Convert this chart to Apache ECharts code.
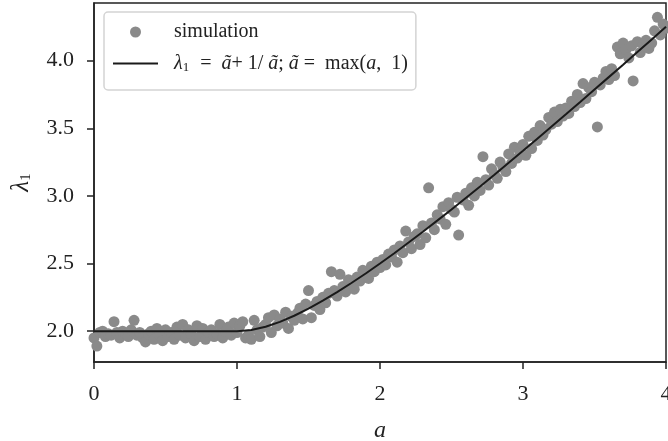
<!DOCTYPE html>
<html>
<head>
<meta charset="utf-8">
<script src="https://cdn.jsdelivr.net/npm/echarts@6/dist/echarts.min.js"></script>
<style>
  html, body { margin: 0; padding: 0; background: #fff; }
  #main { width: 668px; height: 441px; }
</style>
</head>
<body>
<div id="main"></div>
<script>
// simulated points [a, lambda1]
const simPoints = [
  [0.00, 1.95], [0.02, 1.89], [0.04, 1.99], [0.06, 2.00], [0.08, 1.96], [0.10, 1.98],
  [0.12, 1.97], [0.14, 2.07], [0.16, 1.99], [0.18, 1.95], [0.20, 2.00], [0.22, 1.98],
  [0.24, 1.96], [0.26, 2.01], [0.28, 2.08], [0.30, 1.97], [0.32, 1.99], [0.34, 1.95],
  [0.36, 1.92], [0.38, 1.98], [0.40, 2.00], [0.42, 1.94], [0.44, 2.02], [0.46, 1.97],
  [0.48, 1.93], [0.50, 2.01], [0.52, 1.96], [0.54, 1.99], [0.56, 1.94], [0.58, 2.03],
  [0.60, 1.97], [0.62, 2.05], [0.64, 1.95], [0.66, 2.01], [0.68, 1.98], [0.70, 1.93],
  [0.72, 2.04], [0.74, 1.96], [0.76, 2.02], [0.78, 1.94], [0.80, 1.99], [0.82, 2.01],
  [0.84, 1.96], [0.86, 1.98], [0.88, 2.05], [0.90, 1.95], [0.92, 2.00], [0.94, 2.03],
  [0.96, 1.97], [0.98, 2.06], [1.00, 1.99], [1.02, 2.04], [1.04, 2.07], [1.06, 1.95],
  [1.08, 1.97], [1.10, 1.94], [1.12, 2.08], [1.14, 2.01], [1.16, 1.96], [1.18, 2.03],
  [1.20, 2.05], [1.22, 2.10], [1.24, 1.99], [1.26, 2.12], [1.28, 2.04], [1.30, 2.09],
  [1.32, 2.06], [1.34, 2.14], [1.36, 2.02], [1.38, 2.11], [1.40, 2.08], [1.42, 2.13],
  [1.44, 2.17], [1.46, 2.09], [1.48, 2.20], [1.50, 2.30], [1.52, 2.10], [1.54, 2.19],
  [1.56, 2.22], [1.58, 2.16], [1.60, 2.25], [1.62, 2.21], [1.64, 2.28], [1.66, 2.44],
  [1.68, 2.30], [1.70, 2.26], [1.72, 2.42], [1.74, 2.33], [1.76, 2.29], [1.78, 2.38],
  [1.80, 2.35], [1.82, 2.31], [1.84, 2.40], [1.86, 2.37], [1.88, 2.45], [1.90, 2.42],
  [1.92, 2.39], [1.94, 2.48], [1.96, 2.44], [1.98, 2.51], [2.00, 2.47], [2.02, 2.53],
  [2.04, 2.49], [2.06, 2.57], [2.08, 2.55], [2.10, 2.60], [2.12, 2.51], [2.14, 2.63],
  [2.16, 2.58], [2.18, 2.74], [2.20, 2.66], [2.22, 2.61], [2.24, 2.70], [2.26, 2.72],
  [2.28, 2.64], [2.30, 2.78], [2.32, 2.69], [2.34, 3.06], [2.36, 2.80], [2.38, 2.75],
  [2.40, 2.86], [2.42, 2.83], [2.44, 2.92], [2.46, 2.79], [2.48, 2.95], [2.50, 2.90],
  [2.52, 2.88], [2.54, 2.99], [2.55, 2.71], [2.58, 2.97], [2.60, 3.02], [2.62, 2.93],
  [2.64, 3.06], [2.66, 3.00], [2.68, 3.10], [2.70, 3.04], [2.72, 3.29], [2.74, 3.12],
  [2.76, 3.08], [2.78, 3.20], [2.80, 3.16], [2.82, 3.13], [2.84, 3.25], [2.86, 3.21],
  [2.88, 3.18], [2.90, 3.31], [2.92, 3.24], [2.94, 3.36], [2.96, 3.28], [2.98, 3.33],
  [3.00, 3.38], [3.02, 3.30], [3.04, 3.44], [3.06, 3.35], [3.08, 3.47], [3.10, 3.41],
  [3.12, 3.52], [3.14, 3.45], [3.16, 3.49], [3.18, 3.58], [3.20, 3.53], [3.22, 3.62],
  [3.24, 3.55], [3.26, 3.64], [3.28, 3.59], [3.30, 3.65], [3.32, 3.61], [3.34, 3.70],
  [3.36, 3.66], [3.38, 3.75], [3.40, 3.69], [3.42, 3.83], [3.44, 3.72], [3.46, 3.80],
  [3.48, 3.77], [3.50, 3.84], [3.52, 3.51], [3.54, 3.82], [3.56, 3.87], [3.58, 3.92],
  [3.60, 3.86], [3.62, 3.94], [3.64, 3.89], [3.66, 4.10], [3.68, 4.05], [3.70, 4.13],
  [3.72, 4.08], [3.74, 4.02], [3.76, 4.11], [3.77, 3.85], [3.80, 4.14], [3.82, 4.06],
  [3.84, 4.12], [3.86, 4.15], [3.88, 4.09], [3.90, 4.13], [3.92, 4.22], [3.94, 4.32],
  [3.96, 4.19], [3.98, 4.27], [4.00, 4.24]
];

// theory curve lambda1 = a~ + 1/a~, a~ = max(a, 1)
const curveA = [0.0, 1.0, 1.1, 1.2, 1.3, 1.4, 1.5, 1.6, 1.7, 1.8, 1.9, 2.0, 2.1, 2.2, 2.3, 2.4,
  2.5, 2.6, 2.7, 2.8, 2.9, 3.0, 3.1, 3.2, 3.3, 3.4, 3.5, 3.6, 3.7, 3.8, 3.9, 4.0];
const curveL = [2.0, 2.0, 2.009, 2.033, 2.069, 2.114, 2.167, 2.225, 2.288, 2.356, 2.426, 2.5,
  2.576, 2.655, 2.735, 2.817, 2.9, 2.985, 3.070, 3.157, 3.245, 3.333, 3.423, 3.513, 3.603,
  3.694, 3.786, 3.878, 3.970, 4.063, 4.156, 4.25];

const yTicks = [2.0, 2.5, 3.0, 3.5, 4.0];
const xTicks = [0, 1, 2, 3, 4];

const serif = "Liberation Serif";
const ink = "#222";

var chart = echarts.init(document.getElementById("main"), null, { renderer: "canvas" });

var option = {
  animation: false,
  backgroundColor: "#fff",
  grid: {
    left: 94,
    right: 2,
    top: 3,
    bottom: 79,
    show: true,
    borderColor: ink,
    borderWidth: 1.5,
    containLabel: false,
    outerBoundsMode: "none"
  },
  legend: {
    left: 104,
    top: 12,
    orient: "vertical",
    padding: [10, 8, 16, 8],
    itemGap: 11,
    itemWidth: 45,
    itemHeight: 11,
    borderColor: "#d4d4d4",
    borderWidth: 1.5,
    borderRadius: 4,
    backgroundColor: "#fff",
    data: [
      { name: "simulation", icon: "circle" },
      { name: "theory", itemStyle: { opacity: 0, borderWidth: 0 } }
    ],
    formatter: function (name) {
      if (name === "simulation") return "{n|simulation}";
      return "{i|λ}{sub|1}{n|  =  }{i|ã}{n|+ 1/ }{i|ã}{n|; }{i|ã}{n| =  max(}{i|a}{n|,  1)}";
    },
    textStyle: {
      fontFamily: serif,
      fontSize: 20,
      color: ink,
      padding: [0, 0, 0, 11],
      rich: {
        n: { fontFamily: serif, fontSize: 20, color: ink, lineHeight: 22 },
        i: { fontFamily: serif, fontSize: 20, fontStyle: "italic", color: ink, lineHeight: 22 },
        sub: { fontFamily: serif, fontSize: 13, color: ink, lineHeight: 22, padding: [8, 1, 0, 0] }
      }
    }
  },
  xAxis: {
    type: "value",
    min: 0,
    max: 4,
    interval: 1,
    name: "a",
    nameLocation: "middle",
    nameGap: 57,
    nameTextStyle: { fontFamily: serif, fontSize: 24, fontStyle: "italic", color: ink },
    splitLine: { show: false },
    axisLine: { show: true, onZero: false, lineStyle: { color: ink, width: 1.5 } },
    axisTick: { show: true, inside: false, length: 7, lineStyle: { color: ink, width: 1.5 } },
    axisLabel: {
      fontFamily: serif, fontSize: 22, color: ink, margin: 21,
      formatter: function (v) { return xTicks.indexOf(v) >= 0 ? String(v) : ""; }
    }
  },
  yAxis: {
    type: "value",
    min: 1.772,
    max: 4.426,
    name: "{i|λ}{sub|1}",
    nameLocation: "middle",
    nameGap: 59,
    nameTextStyle: {
      rich: {
        i: { fontFamily: serif, fontSize: 25, fontStyle: "italic", color: ink, lineHeight: 28 },
        sub: { fontFamily: serif, fontSize: 15, color: ink, lineHeight: 28, padding: [10, 0, 0, 0] }
      }
    },
    splitLine: { show: false },
    axisLine: { show: true, onZero: false, lineStyle: { color: ink, width: 1.5 } },
    axisTick: {
      show: true, inside: false, length: 7, customValues: yTicks,
      lineStyle: { color: ink, width: 1.5 }
    },
    axisLabel: {
      fontFamily: serif, fontSize: 22, color: ink, margin: 20,
      customValues: yTicks,
      formatter: function (v) { return v.toFixed(1); }
    }
  },
  series: [
    {
      name: "simulation",
      type: "scatter",
      data: simPoints,
      symbol: "circle",
      symbolSize: 11,
      itemStyle: { color: "#8a8a8a", opacity: 1 },
      z: 2
    },
    {
      name: "theory",
      type: "line",
      data: curveA.map(function (a, i) { return [a, curveL[i]]; }),
      showSymbol: false,
      symbol: "none",
      smooth: false,
      lineStyle: { color: "#1a1a1a", width: 2 },
      itemStyle: { color: "#1a1a1a" },
      z: 3
    }
  ]
};

option && chart.setOption(option);
</script>
</body>
</html>
